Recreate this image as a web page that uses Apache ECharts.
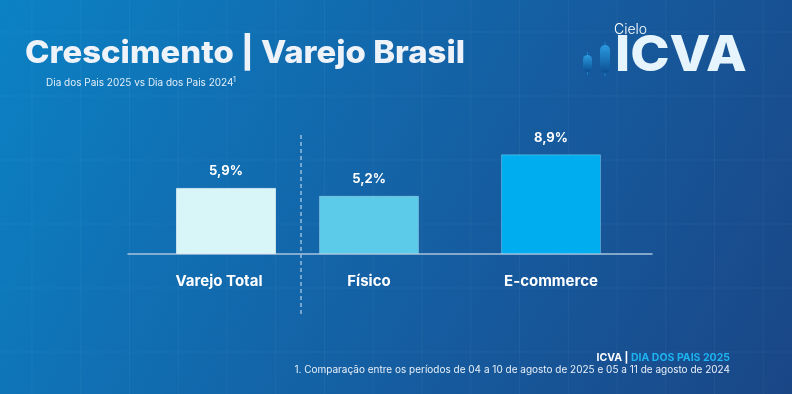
<!DOCTYPE html>
<html><head><meta charset="utf-8">
<script src="https://cdn.jsdelivr.net/npm/echarts@6/dist/echarts.min.js"></script>
<style>html,body{margin:0;padding:0;background:#0f64a8}#c{width:792px;height:394px}</style>
</head><body><div id="c"></div>
<script>
// ---- data ----
const totalCategories = ['Varejo Total'];
const totalValues = [5.9];
const channelCategories = ['Físico', 'E-commerce'];
const channelValues = [5.2, 8.9];
const titleText = 'Crescimento | Varejo Brasil';
const subtitleText = 'Dia dos Pais 2025 vs Dia dos Pais 2024';
const footerTagA = 'ICVA | ';
const footerTagB = 'DIA DOS PAIS 2025';
const footnote = '1. Comparação entre os períodos de 04 a 10 de agosto de 2025 e 05 a 11 de agosto de 2024';

// ---- styles ----
const FONT = 'Inter, "Noto Sans", sans-serif';
const colTotal = '#d8f5f8';
const colChannel = ['#5ccbe9', '#00aeef'];
const fmt = v => v.toFixed(1).replace('.', ',') + '%';

const chart = echarts.init(document.getElementById('c'), null, {renderer: 'canvas'});

// decorative faint background grid
const deco = [];
for (let x = 32; x < 792; x += 48.75) {
  deco.push({type: 'line', silent: true, z: -10, shape: {x1: x, y1: 0, x2: x, y2: 394},
    style: {stroke: 'rgba(255,255,255,0.045)', lineWidth: 1}});
}
for (let y = 32; y < 394; y += 64) {
  deco.push({type: 'line', silent: true, z: -10, shape: {x1: 0, y1: y, x2: 792, y2: y},
    style: {stroke: 'rgba(255,255,255,0.045)', lineWidth: 1}});
}

const labelStyle = {show: true, position: 'top', distance: 10, color: '#ffffff',
  fontFamily: FONT, fontWeight: 'bold', fontSize: 13, formatter: p => fmt(p.value)};
const axisLabelStyle = {color: '#ffffff', fontFamily: FONT, fontWeight: 'bold', fontSize: 15, margin: 20};
const candleFill = {type: 'linear', x: 0, y: 0, x2: 0, y2: 1,
  colorStops: [{offset: 0, color: '#2b9ae0'}, {offset: 1, color: '#0b4f92'}]};

const option = {
  backgroundColor: {type: 'linear', x: 0, y: 0, x2: 1, y2: 1,
    colorStops: [{offset: 0, color: '#0b82c4'}, {offset: 0.5, color: '#1462a6'}, {offset: 1, color: '#1a4686'}]},
  animation: false,
  grid: [
    {left: 128, right: 468, top: 142, bottom: 140},
    {left: 278, right: 150, top: 142, bottom: 140},
    {left: 128, right: 140, top: 142, bottom: 140}
  ],
  xAxis: [
    {type: 'category', gridIndex: 0, data: totalCategories, axisLine: {show: false}, axisTick: {show: false},
      axisLabel: Object.assign({}, axisLabelStyle, {padding: [0, 14, 0, 0]})},
    {type: 'category', gridIndex: 1, data: channelCategories, axisLine: {show: false}, axisTick: {show: false}, axisLabel: axisLabelStyle},
    {type: 'category', gridIndex: 2, data: [''], axisLine: {show: true, lineStyle: {color: '#a9c2db', width: 1.5}}, axisTick: {show: false}, axisLabel: {show: false}}
  ],
  yAxis: [0, 1, 2].map(i => ({type: 'value', gridIndex: i, min: 0, max: 10, show: false, splitLine: {show: false}})),
  series: [
    {type: 'bar', xAxisIndex: 0, yAxisIndex: 0, barWidth: 100, data: totalValues,
      itemStyle: {color: colTotal, borderColor: 'rgba(255,255,255,0.6)', borderWidth: 1}, label: labelStyle},
    {type: 'bar', xAxisIndex: 1, yAxisIndex: 1, barWidth: 100,
      data: channelValues.map((v, i) => ({value: v, itemStyle: {color: colChannel[i]}})),
      itemStyle: {borderColor: 'rgba(255,255,255,0.25)', borderWidth: 1}, label: labelStyle},
    {type: 'bar', xAxisIndex: 2, yAxisIndex: 2, data: []}
  ],
  graphic: deco.concat([
    // separator
    {type: 'line', silent: true, shape: {x1: 301, y1: 135, x2: 301, y2: 316},
      style: {stroke: 'rgba(255,255,255,0.85)', lineWidth: 1, lineDash: [4, 3]}},
    // title
    {type: 'text', x: 25, y: 38, scaleX: 1.045, style: {text: titleText, font: '800 31.5px ' + FONT,
      fill: '#eef2f9', shadowBlur: 4, shadowColor: 'rgba(0,0,0,0.25)', shadowOffsetY: 1}},
    {type: 'text', left: 46, top: 78, style: {text: subtitleText, font: '400 10px ' + FONT, fill: '#e3eef8'}},
    {type: 'text', left: 233, top: 76, style: {text: '1', font: '400 7px ' + FONT, fill: '#e3eef8'}},
    // logo
    {type: 'text', left: 614, top: 23, style: {text: 'Cielo', font: '300 14px ' + FONT, fill: '#ffffff'}},
    {type: 'text', x: 615, y: 31, scaleX: 1.06, style: {text: 'ICVA', font: '800 50px ' + FONT, fill: '#e6f4fd'}},
    {type: 'line', silent: true, shape: {x1: 587.5, y1: 52, x2: 587.5, y2: 75}, style: {stroke: '#1d7fc8', lineWidth: 1}},
    {type: 'rect', shape: {x: 583, y: 55, width: 9, height: 17, r: 4.5}, style: {fill: candleFill}},
    {type: 'line', silent: true, shape: {x1: 605, y1: 42, x2: 605, y2: 76}, style: {stroke: '#1d7fc8', lineWidth: 1}},
    {type: 'rect', shape: {x: 600, y: 45, width: 10, height: 28, r: 5}, style: {fill: candleFill}},
    // footer
    {type: 'text', right: 62, top: 352, style: {text: '{a|' + footerTagA + '}{b|' + footerTagB + '}',
      rich: {a: {font: '700 10.5px ' + FONT, fill: '#ffffff'}, b: {font: '700 10.5px ' + FONT, fill: '#1db4f0'}}}},
    {type: 'text', right: 62, top: 365, style: {text: footnote, font: '400 10px ' + FONT, fill: '#e8f0f8'}}
  ])
};
chart.setOption(option);
</script></body></html>
